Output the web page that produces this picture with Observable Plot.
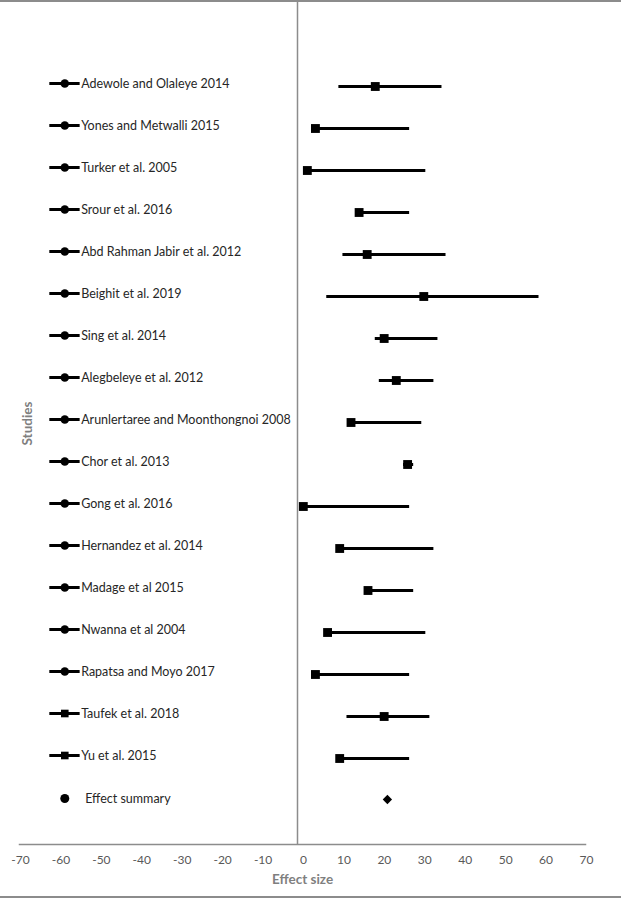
<!DOCTYPE html>
<html>
<head>
<meta charset="utf-8">
<script src="https://cdn.jsdelivr.net/npm/d3@7"></script>
<script src="https://cdn.jsdelivr.net/npm/@observablehq/plot@0.6"></script>
<style>
  html, body { margin: 0; padding: 0; background: #fff; }
  #wrap { position: relative; width: 621px; height: 899px; overflow: hidden; }
  #wrap svg { display: block; }
  .bt { position: absolute; left: 0; width: 621px; height: 2px; background: #8c8c8c; }
</style>
</head>
<body>
<div id="wrap"><div class="bt" style="top:0"></div><div class="bt" style="top:896px"></div></div>
<script>
// ---- data ----
const studies = [
  "Adewole and Olaleye 2014",
  "Yones and Metwalli 2015",
  "Turker et al. 2005",
  "Srour et al. 2016",
  "Abd Rahman Jabir et al. 2012",
  "Beighit et al. 2019",
  "Sing et al. 2014",
  "Alegbeleye et al. 2012",
  "Arunlertaree and Moonthongnoi 2008",
  "Chor et al. 2013",
  "Gong et al. 2016",
  "Hernandez et al. 2014",
  "Madage et al 2015",
  "Nwanna et al 2004",
  "Rapatsa and Moyo 2017",
  "Taufek et al. 2018",
  "Yu et al. 2015"
];
const effect = [18, 3.2, 1.2, 14, 16, 30, 20.2, 23.2, 12, 26, 0.2, 9.2, 16.2, 6.2, 3.2, 20.2, 9.2];
const lower  = [9, 2.5, 0.5, 13.5, 10, 6, 18, 19, 11.5, 25, 0, 8.5, 15.5, 5.5, 2.5, 11, 8.5];
const upper  = [34.5, 26.5, 30.5, 26.5, 35.5, 58.5, 33.5, 32.5, 29.5, 27.5, 26.5, 32.5, 27.5, 30.5, 26.5, 31.5, 26.5];
const legendSymbol = ["circle","circle","circle","circle","circle","circle","circle","circle","circle",
                      "circle","circle","circle","circle","circle","circle","square","square"];
const summaryLabel = "Effect summary";
const summaryEffect = 21;
const xTicks = [-70, -60, -50, -40, -30, -20, -10, 0, 10, 20, 30, 40, 50, 60, 70];
const legendLine = [-62.5, -55];   // legend key segment (effect-size units)
const legendMarker = -58.8;

// ---- build rows ----
const rows = studies.map((name, i) => ({name, est: effect[i], lo: lower[i], hi: upper[i], sym: legendSymbol[i]}));
const rowKeys = [...studies, summaryLabel];
const font = "Lato, 'Open Sans', sans-serif";

const chart = Plot.plot({
  width: 621,
  height: 899,
  marginLeft: 19,
  marginRight: 36,
  marginTop: 0,
  marginBottom: 55,
  style: {fontFamily: font, background: "transparent"},
  x: {domain: [-70, 70]},
  y: {type: "point", domain: rowKeys, range: [83, 801], padding: 0, axis: null},
  marks: [
    Plot.ruleX([0], {stroke: "#8c8c8c", strokeWidth: 1.5, dx: -5}),
    Plot.frame({anchor: "bottom", stroke: "#8c8c8c", strokeWidth: 1.5}),
    Plot.axisX({ticks: xTicks, tickSize: 0, tickPadding: 11, fontSize: 12, fill: "#595959", label: null,
                tickFormat: d => String(d), dx: 1}),
    Plot.text(["Effect size"], {frameAnchor: "bottom", dy: 39, fontWeight: "bold", fontSize: 13.5, fill: "#7f7f7f"}),
    Plot.text(["Studies"], {frameAnchor: "left", dx: 8, dy: 23, rotate: -90, fontWeight: "bold", fontSize: 13.5, fill: "#7f7f7f"}),
    // confidence intervals
    Plot.ruleY(rows, {y: "name", x1: "lo", x2: "hi", stroke: "black", strokeWidth: 3, dy: 1}),
    Plot.dot(rows, {x: "est", y: "name", symbol: "square", r: 5, fill: "black", stroke: "none", dy: 1}),
    Plot.dot([summaryEffect], {x: d => d, y: () => summaryLabel, symbol: "diamond2", r: 4.2, fill: "black", stroke: "none"}),
    // left-hand legend keys
    Plot.ruleY(rows, {y: "name", x1: () => legendLine[0], x2: () => legendLine[1], stroke: "black", strokeWidth: 3, dy: -2}),
    Plot.dot(rows, {x: () => legendMarker, y: "name", symbol: "sym", r: 4.3, fill: "black", stroke: "none", dy: -2}),
    Plot.dot([summaryLabel], {x: () => legendMarker, y: d => d, symbol: "circle", r: 4.5, fill: "black", stroke: "none", dy: -1}),
    Plot.text(rows, {x: () => legendLine[1], y: "name", text: "name", textAnchor: "start", dx: 1, dy: -2, fontSize: 12.5, fill: "#262626"}),
    Plot.text([summaryLabel], {x: () => legendLine[1], y: d => d, text: d => d, textAnchor: "start", dx: 5, dy: -1, fontSize: 12.5, fill: "#262626"})
  ]
});
document.getElementById("wrap").prepend(chart);
</script>
</body>
</html>
